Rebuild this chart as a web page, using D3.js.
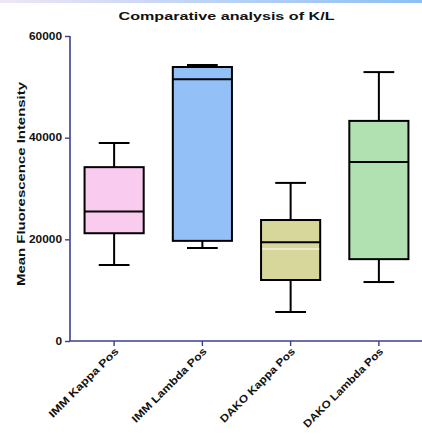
<!DOCTYPE html>
<html>
<head>
<meta charset="utf-8">
<script src="https://cdn.jsdelivr.net/npm/d3@7"></script>
<style>
  body { margin: 0; background: #fff; }
  svg text { font-family: "Liberation Sans", Arial, sans-serif; font-weight: bold; fill: #111; }
</style>
</head>
<body>
<div id="chart"></div>
<script>
// 数据
const groups = ["IMM Kappa Pos", "IMM Lambda Pos", "DAKO Kappa Pos", "DAKO Lambda Pos"];
const whiskerLow  = [14950, 18300, 5700, 11600];
const quart1      = [21200, 19700, 12000, 16100];
const medians     = [25500, 51500, 19450, 35200];
const quart3      = [34200, 53900, 23800, 43300];
const whiskerHigh = [38950, 54300, 31100, 52900];
const whiteLine   = [null, null, 18100, null];
const fills       = ["#f8cbef", "#94c0f8", "#d7d79c", "#b1e1b1"];
const yTicks      = [0, 20000, 40000, 60000];

const width = 422, height = 434;
const axisColor = "#3b3f8f";

const svg = d3.select("#chart").append("svg")
    .attr("width", width)
    .attr("height", height);

// 顶部渐变条
const grad = svg.append("defs").append("linearGradient").attr("id", "topbar");
grad.append("stop").attr("offset", "0%").attr("stop-color", "#eee6f5");
grad.append("stop").attr("offset", "100%").attr("stop-color", "#8cbff4");
svg.append("rect").attr("x", 0).attr("y", 0).attr("width", width).attr("height", 3)
    .attr("fill", "url(#topbar)");

const x = d3.scaleBand().domain(groups).range([70, 423]);
const y = d3.scaleLinear().domain([0, 60000]).range([341, 36]);

// 标题
svg.append("text")
    .attr("x", 226.5).attr("y", 20)
    .attr("text-anchor", "middle")
    .attr("font-size", 11.5)
    .attr("textLength", 216).attr("lengthAdjust", "spacingAndGlyphs")
    .text("Comparative analysis of K/L");

// Y轴
const yAxis = svg.append("g").attr("transform", "translate(70,0)")
    .call(d3.axisLeft(y).tickValues(yTicks).tickSize(5).tickPadding(3).tickFormat(d3.format("d")));
yAxis.select(".domain").attr("stroke", axisColor).attr("stroke-width", 1.6).attr("d", "M0,36V341");
yAxis.selectAll(".tick line").attr("stroke", axisColor).attr("stroke-width", 1.4);
yAxis.selectAll(".tick text")
    .attr("font-size", 10)
    .attr("fill", "#111")
    .each(function(d) {
        const t = String(d);
        d3.select(this).attr("textLength", t.length * 6.6).attr("lengthAdjust", "spacingAndGlyphs");
    });

// Y轴标题
svg.append("text")
    .attr("transform", "translate(25,184) rotate(-90)")
    .attr("text-anchor", "middle")
    .attr("font-size", 11.5)
    .attr("textLength", 204).attr("lengthAdjust", "spacingAndGlyphs")
    .text("Mean Fluorescence Intensity");

// X轴
const xAxis = svg.append("g").attr("transform", "translate(0,341)")
    .call(d3.axisBottom(x).tickSize(5).tickFormat(""));
xAxis.select(".domain").attr("stroke", axisColor).attr("stroke-width", 1.6).attr("d", "M70,0H422");
xAxis.selectAll(".tick line").attr("stroke", axisColor).attr("stroke-width", 1.4);

svg.append("g").selectAll("text")
    .data(groups)
    .enter().append("text")
    .attr("transform", d => `translate(${x(d) + x.bandwidth() / 2 + 5},352) rotate(-45)`)
    .attr("text-anchor", "end")
    .attr("font-size", 10.5)
    .attr("textLength", d => d.length * 7.2).attr("lengthAdjust", "spacingAndGlyphs")
    .text(d => d);

// 箱线图
const boxW = x.bandwidth() * 0.67;
const capW = boxW * 0.52;
const boxes = svg.append("g").selectAll("g")
    .data(groups)
    .enter().append("g");

boxes.each(function(d, i) {
    const g = d3.select(this);
    const cx = x(d) + x.bandwidth() / 2;
    // 须线
    g.append("line")
        .attr("x1", cx).attr("x2", cx)
        .attr("y1", y(whiskerLow[i])).attr("y2", y(whiskerHigh[i]))
        .attr("stroke", "#000").attr("stroke-width", 2);
    [whiskerLow[i], whiskerHigh[i]].forEach(v => {
        g.append("line")
            .attr("x1", cx - capW / 2).attr("x2", cx + capW / 2)
            .attr("y1", y(v)).attr("y2", y(v))
            .attr("stroke", "#000").attr("stroke-width", 2);
    });
    // 箱体
    g.append("rect")
        .attr("x", cx - boxW / 2).attr("width", boxW)
        .attr("y", y(quart3[i])).attr("height", y(quart1[i]) - y(quart3[i]))
        .attr("fill", fills[i])
        .attr("stroke", "#000").attr("stroke-width", 2);
    // 中位数
    g.append("line")
        .attr("x1", cx - boxW / 2).attr("x2", cx + boxW / 2)
        .attr("y1", y(medians[i])).attr("y2", y(medians[i]))
        .attr("stroke", "#000").attr("stroke-width", 2);
    if (whiteLine[i] != null) {
        g.append("line")
            .attr("x1", cx - boxW / 2 + 1).attr("x2", cx + boxW / 2 - 1)
            .attr("y1", y(whiteLine[i])).attr("y2", y(whiteLine[i]))
            .attr("stroke", "#fff").attr("stroke-width", 1);
    }
});
</script>
</body>
</html>
